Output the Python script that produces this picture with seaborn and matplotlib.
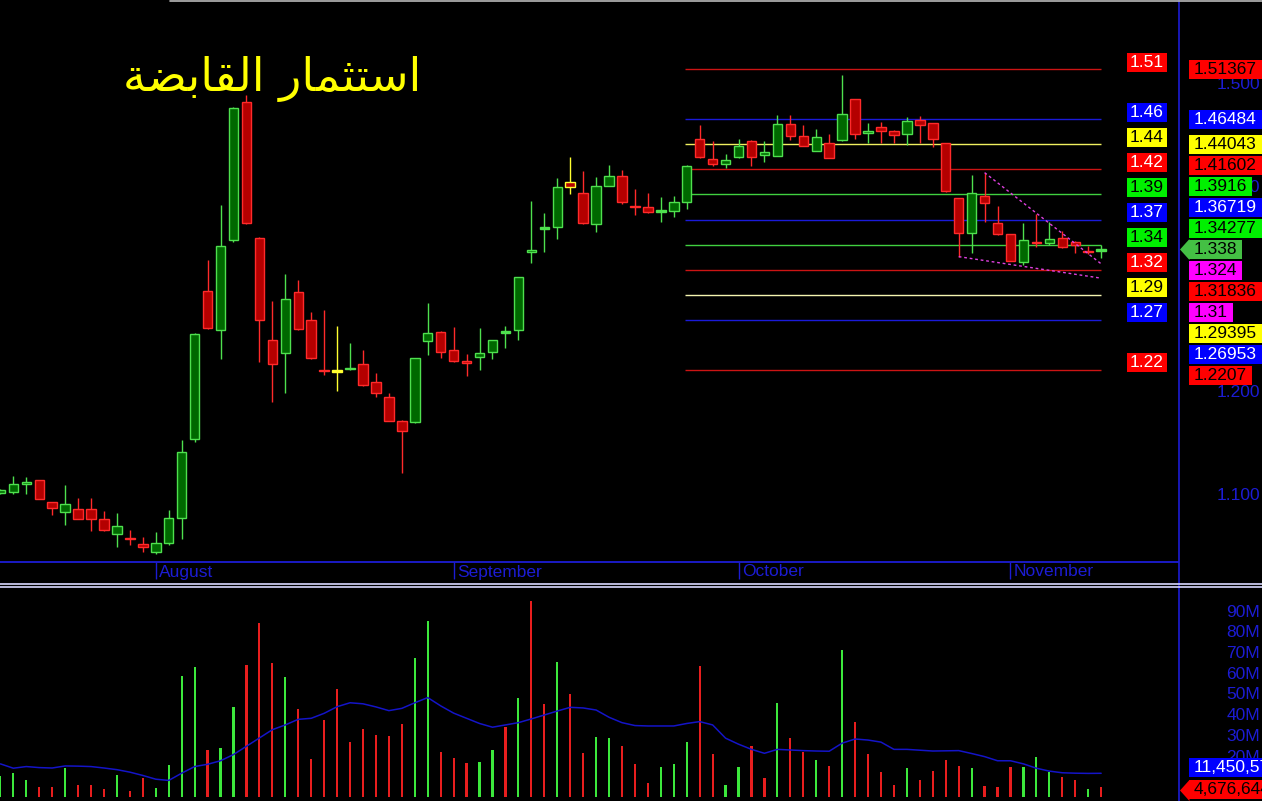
import numpy as np
import pandas as pd
import matplotlib
matplotlib.use('Agg')
import matplotlib.pyplot as plt
from matplotlib.lines import Line2D
import seaborn as sns

# ---- values (price in SAR, volume in millions) ----
opens = [1.1006, 1.1012, 1.1090, 1.1129, 1.0915, 1.0817, 1.0847, 1.0847, 1.0749, 1.0603,
         1.0565, 1.0505, 1.0427, 1.0515, 1.0759, 1.1529, 1.2972, 1.2595, 1.3469, 1.4815,
         1.3489, 1.2497, 1.2368, 1.2965, 1.2693, 1.2203, 1.2198, 1.2214, 1.2260, 1.2085,
         1.1939, 1.1708, 1.1695, 1.2490, 1.2578, 1.2397, 1.2292, 1.2335, 1.2377, 1.2575,
         1.2592, 1.3352, 1.3585, 1.3596, 1.4041, 1.3928, 1.3625, 1.3999, 1.4094, 1.3800,
         1.3791, 1.3755, 1.3758, 1.3846, 1.4454, 1.4259, 1.4210, 1.4279, 1.4438, 1.4301,
         1.4294, 1.4600, 1.4489, 1.4343, 1.4415, 1.4444, 1.4844, 1.4513, 1.4571, 1.4535,
         1.4503, 1.4642, 1.4610, 1.4415, 1.3879, 1.3544, 1.3901, 1.3635, 1.3528, 1.3261,
         1.3456, 1.3446, 1.3489, 1.3456, 1.3362, 1.3370]
highs = [1.1040, 1.1171, 1.1165, 1.1135, 1.0920, 1.1083, 1.0960, 1.0960, 1.0830, 1.0807,
         1.0645, 1.0580, 1.0622, 1.0840, 1.1522, 1.2565, 1.3277, 1.3814, 1.4770, 1.4886,
         1.3500, 1.2880, 1.3138, 1.3082, 1.2773, 1.2790, 1.2634, 1.2465, 1.2400, 1.2179,
         1.1978, 1.1715, 1.2325, 1.2855, 1.2585, 1.2627, 1.2361, 1.2612, 1.2500, 1.2634,
         1.3115, 1.3853, 1.3733, 1.4080, 1.4279, 1.4148, 1.4084, 1.4204, 1.4155, 1.3967,
         1.3933, 1.3889, 1.3901, 1.4200, 1.4594, 1.4438, 1.4311, 1.4457, 1.4445, 1.4438,
         1.4691, 1.4691, 1.4594, 1.4552, 1.4506, 1.5081, 1.4850, 1.4616, 1.4623, 1.4540,
         1.4675, 1.4681, 1.4615, 1.4420, 1.3885, 1.4106, 1.4129, 1.3807, 1.3530, 1.3641,
         1.3726, 1.3651, 1.3563, 1.3460, 1.3414, 1.3424]
lows = [1.1000, 1.0993, 1.0993, 1.0945, 1.0791, 1.0694, 1.0750, 1.0638, 1.0640, 1.0482,
        1.0499, 1.0433, 1.0411, 1.0499, 1.0557, 1.1506, 1.2605, 1.2309, 1.3450, 1.3625,
        1.2286, 1.1896, 1.1978, 1.2595, 1.2310, 1.2156, 1.2003, 1.2206, 1.2050, 1.1945,
        1.1705, 1.1198, 1.1690, 1.2351, 1.2319, 1.2285, 1.2149, 1.2206, 1.2312, 1.2422,
        1.2497, 1.3245, 1.3358, 1.3479, 1.3918, 1.3630, 1.3548, 1.3995, 1.3820, 1.3716,
        1.3738, 1.3651, 1.3700, 1.3772, 1.4269, 1.4194, 1.4177, 1.4275, 1.4194, 1.4230,
        1.4290, 1.4447, 1.4385, 1.4340, 1.4270, 1.4440, 1.4457, 1.4415, 1.4415, 1.4418,
        1.4399, 1.4415, 1.4376, 1.3940, 1.3310, 1.3349, 1.3645, 1.3520, 1.3265, 1.3229,
        1.3401, 1.3424, 1.3395, 1.3349, 1.3333, 1.3294]
closes = [1.1035, 1.1090, 1.1110, 1.0950, 1.0856, 1.0895, 1.0755, 1.0749, 1.0642, 1.0681,
          1.0558, 1.0482, 1.0515, 1.0759, 1.1408, 1.2553, 1.2612, 1.3411, 1.4757, 1.3635,
          1.2693, 1.2266, 1.2894, 1.2602, 1.2319, 1.2196, 1.2198, 1.2222, 1.2056, 1.1978,
          1.1711, 1.1613, 1.2319, 1.2568, 1.2383, 1.2290, 1.2270, 1.2368, 1.2494, 1.2580,
          1.3109, 1.3375, 1.3592, 1.3986, 1.3986, 1.3635, 1.3999, 1.4094, 1.3840, 1.3795,
          1.3742, 1.3760, 1.3846, 1.4194, 1.4285, 1.4210, 1.4250, 1.4392, 1.4285, 1.4327,
          1.4600, 1.4489, 1.4392, 1.4480, 1.4275, 1.4698, 1.4503, 1.4535, 1.4535, 1.4493,
          1.4630, 1.4596, 1.4454, 1.3947, 1.3544, 1.3928, 1.3830, 1.3528, 1.3271, 1.3469,
          1.3440, 1.3479, 1.3401, 1.3424, 1.3356, 1.3380]
volumes = [10.1, 11.6, 8.2, 4.8, 4.8, 14.0, 5.9, 5.9, 4.0, 10.6,
           3.0, 9.3, 4.3, 15.5, 58.5, 62.8, 22.7, 23.7, 43.5, 63.9,
           84.2, 64.7, 58.0, 42.7, 18.4, 37.2, 52.3, 26.6, 32.9, 30.0,
           29.5, 35.3, 67.0, 85.0, 21.6, 19.0, 16.6, 16.9, 22.7, 34.0,
           47.8, 94.7, 44.9, 65.2, 49.8, 21.1, 29.1, 28.5, 24.6, 16.1,
           6.9, 14.5, 15.9, 26.6, 63.3, 20.8, 5.8, 14.5, 24.6, 9.2,
           45.4, 28.7, 21.7, 17.9, 15.0, 71.0, 36.4, 20.8, 12.2, 5.8,
           13.9, 8.2, 12.6, 17.9, 15.0, 13.9, 5.3, 4.8, 14.5, 14.5,
           19.3, 12.1, 9.7, 8.2, 3.9, 4.68]
vol_up = [1, 1, 1, 0, 0, 1, 0, 0, 0, 1,
          0, 0, 1, 1, 1, 1, 0, 1, 1, 0,
          0, 0, 1, 0, 0, 0, 0, 0, 0, 0,
          0, 0, 1, 1, 0, 0, 0, 1, 1, 0,
          1, 0, 0, 1, 0, 0, 1, 1, 0, 0,
          0, 1, 1, 1, 0, 0, 1, 1, 0, 0,
          1, 0, 0, 1, 0, 1, 0, 0, 0, 0,
          1, 0, 0, 0, 0, 1, 0, 0, 0, 1,
          1, 1, 0, 0, 1, 0]
vol_ma = [16, 13.9, 14.7, 14.2, 14, 15, 14.9, 14.7, 14, 13.2,
          12, 10.4, 8.6, 8, 11.5, 14.7, 15.8, 17.5, 20.5, 24.5,
          28.5, 32.5, 34.8, 37.5, 38, 40.4, 43.6, 45.5, 45, 43.5,
          41.7, 42.8, 45.5, 48, 44, 40.5, 38, 35.5, 33.7, 34.8,
          35.9, 37.7, 39.6, 41.5, 43.3, 43, 42, 38.5, 35.9, 34.5,
          34.3, 34.3, 34.3, 35.5, 36.4, 34.8, 28.4, 25.5, 23, 21.1,
          23, 22.7, 22.4, 22.2, 22.1, 26, 28, 27.5, 26.5, 23,
          23, 22.6, 22.2, 22.3, 22.4, 21, 19.5, 17.5, 17.5, 16,
          13.9, 12.5, 11.7, 11.5, 11.4, 11.45]

months = ['August', 'September', 'October', 'November']
month_idx = [12, 35, 57, 78]

fib_levels = [1.51367, 1.46484, 1.44043, 1.41602, 1.3916, 1.36719,
              1.34277, 1.31836, 1.29395, 1.26953, 1.2207]
fib_kind = ['red', 'blue', 'yellow', 'red', 'green', 'blue',
            'green', 'red', 'yellow', 'blue', 'red']
fib_from, fib_to = 52.9, 85

trend_x = [[76, 85], [74, 85]]
trend_y = [[1.4129, 1.324], [1.3310, 1.31]]

last_price = 1.338
vol_ma_text = '11,450,57'
vol_last_text = '4,676,644'
marked_candle = 44

price_ticks = [1.1, 1.2, 1.3, 1.4, 1.5]
vol_ticks = [20, 30, 40, 50, 60, 70, 80, 90]

# Arabic title, already shaped (presentation forms, visual order)
title = '\uFE94\uFEC0\uFE91\uFE8E\uFED8\uFEDF\uFE8D \uFEAD\uFE8E\uFEE4\uFE9C\uFE98\uFEB3\uFE8D'

# ---- styling ----
BLUE = '#1c1cd4'
G_EDGE, G_FILL = '#4ee04e', '#006800'
R_EDGE, R_FILL = '#ff2a2a', '#b40000'
YEL = '#ffff30'
line_col = {'red': '#cc1414', 'blue': '#1a1ad8', 'yellow': '#f0f060', 'green': '#40d040'}
box_col = {'red': '#ff0000', 'blue': '#0000ff', 'yellow': '#ffff00', 'green': '#00f000'}

W, H = 1262, 801
SEP = 1178
P_BOT = 562
V_TOP = 587
SLOT = 12.95

sns.set_style('dark', {'axes.facecolor': 'black', 'figure.facecolor': 'black'})
plt.rcParams['font.family'] = ['Liberation Sans', 'DejaVu Sans']

fig = plt.figure(figsize=(W / 100, H / 100), dpi=100, facecolor='black')
ax = fig.add_axes([0, (H - P_BOT) / H, SEP / W, P_BOT / H])
axv = fig.add_axes([0, 0, SEP / W, (H - V_TOP) / H])

idx = np.arange(len(closes))
o, c = np.array(opens), np.array(closes)

# ---- price panel ----
lcols = [line_col[k] for k in fib_kind]
lcols[8] = '#f4f4b0'
ax.hlines(fib_levels, fib_from, fib_to, colors=lcols, lw=1, zorder=1)

up = c > o + 1e-9
down = c < o - 1e-9
edge = np.where(up, G_EDGE, np.where(down, R_EDGE, YEL)).astype(object)
fill = np.where(up, G_FILL, np.where(down, R_FILL, YEL)).astype(object)
doji = np.abs(c - o) < 0.0012
fill[doji] = edge[doji]
edge[marked_candle] = YEL
hgt = np.maximum(np.abs(c - o), 0.0016)
bot = np.where(doji, (o + c) / 2 - 0.0008, np.minimum(o, c))

ax.vlines(idx, lows, highs, colors=list(edge), lw=1, zorder=2)
ax.bar(idx, hgt, bottom=bot, width=0.73, color=list(fill), edgecolor=list(edge), lw=1, zorder=3)

for tx, ty in zip(trend_x, trend_y):
    ax.plot(tx, ty, color='#e040e0', lw=1, ls=(0, (2, 2)), zorder=4)

ymin, ymax = 1.0333, 1.5812
ax.set_ylim(ymin, ymax)
xmax = SEP / SLOT
ax.set_xlim(-0.03, xmax - 0.03)
ppx = P_BOT / (ymax - ymin)

ax.grid(False)
for s in ['top', 'left', 'right']:
    ax.spines[s].set_visible(False)
ax.spines['bottom'].set_color(BLUE)
ax.spines['bottom'].set_linewidth(1.3)

ax.set_xticks(month_idx)
ax.tick_params(axis='x', bottom=True, direction='out', length=12, width=1, color=BLUE, labelbottom=False)
for name, mi in zip(months, month_idx):
    ax.text(mi + 0.28, -10 / P_BOT, name, transform=ax.get_xaxis_transform(), color=BLUE,
            fontsize=12.5, ha='left', va='center', clip_on=False)

ax.yaxis.tick_right()
ax.set_yticks(price_ticks, [f'{t:.3f}' for t in price_ticks])
ax.tick_params(axis='y', right=False, length=0, pad=82 / 1.389, labelsize=12.5, labelcolor=BLUE)
plt.setp(ax.get_yticklabels(), ha='right')


def tag(axis, x_px, y, text, fc, tc, ha='left', size=12.5, pad=0.28, asp=0.42):
    axis.text(x_px / SEP, y, text, transform=axis.get_yaxis_transform(), ha=ha, va='center',
              fontsize=size, color=tc, zorder=6, clip_on=False,
              bbox=dict(boxstyle=f'square,pad={pad}', fc=fc, ec='none', mutation_aspect=asp))


def arrow(axis, x_px, y, fc):
    axis.plot([x_px / SEP], [y], transform=axis.get_yaxis_transform(), clip_on=False, zorder=6,
              marker=[(-0.9, 0), (0, 1), (0, -1), (-0.9, 0)], ms=15.2, color=fc, mew=0)


# rounded level tags inside the chart
for k, lv in zip(fib_kind, fib_levels):
    tc = 'white' if k in ('red', 'blue') else 'black'
    tag(ax, 1147, lv + 7 / ppx, f'{lv:.2f}', box_col[k], tc, ha='center', size=12.5, pad=0.16, asp=0.75)

# exact values on the right scale, stacked so they don't overlap
right_tags = [(lv, box_col[k], 'white' if k == 'blue' else 'black', f'{lv:.5f}'.rstrip('0'))
              for k, lv in zip(fib_kind, fib_levels)]
right_tags += [(ty[-1], '#ff00ff', 'black', f'{ty[-1]:.3f}'.rstrip('0')) for ty in trend_y]
gap = 21 / ppx
pos = {}
prev = last_price
for t in sorted([t for t in right_tags if t[0] > last_price], key=lambda t: t[0]):
    prev = max(t[0], prev + gap)
    pos[t[3]] = prev
prev = last_price
for t in sorted([t for t in right_tags if t[0] < last_price], key=lambda t: -t[0]):
    prev = min(t[0], prev - gap)
    pos[t[3]] = prev
for t in right_tags:
    tag(ax, 1194, pos[t[3]], t[3], t[1], t[2])
tag(ax, 1194, last_price, f'{last_price:.3f}', '#44c044', 'black')
arrow(ax, 1189.5, last_price, '#44c044')

# ---- volume panel ----
vdf = pd.DataFrame({'idx': idx, 'vol': volumes,
                    'dir': ['up' if u else 'down' for u in vol_up]})
sns.barplot(data=vdf, x='idx', y='vol', hue='dir', palette={'up': '#3ce83c', 'down': '#e81e1e'},
            dodge=False, width=0.17, saturation=1, errorbar=None, legend=False, ax=axv,
            linewidth=0, edgecolor='none')
sns.lineplot(x=idx, y=vol_ma, color='#1414c8', lw=1.1, ax=axv)

axv.set_xlim(-0.03, xmax - 0.03)
axv.set_ylim(-1.93, 101.4)
axv.grid(False)
for s in axv.spines.values():
    s.set_visible(False)
axv.set_xticks([])
axv.set_xlabel('')
axv.set_ylabel('')
axv.yaxis.tick_right()
axv.set_yticks(vol_ticks, [f'{v}M' for v in vol_ticks])
axv.tick_params(axis='y', right=False, length=0, pad=82 / 1.389, labelsize=12.5, labelcolor=BLUE)
plt.setp(axv.get_yticklabels(), ha='right')

vgap = 22 / 2.071
tag(axv, 1194, volumes[-1] - 1.2, vol_last_text, '#ff0000', 'black')
arrow(axv, 1189.5, volumes[-1] - 1.2, '#ff0000')
tag(axv, 1194, max(vol_ma[-1], volumes[-1] - 1.2 + vgap), vol_ma_text, '#0000ff', 'white')

# ---- frame lines and title ----
fig.add_artist(Line2D([(SEP + 0.5) / W] * 2, [0, 1], color=BLUE, lw=1.2))
for yy in (584.3, 586.8):
    fig.add_artist(Line2D([0, 1], [1 - yy / H] * 2, color='#d8d8ff', lw=1.2))
fig.add_artist(Line2D([170 / W, 1], [1 - 0.8 / H] * 2, color='#b8b8b8', lw=1.2))

fig.text(272 / W, 1 - 79 / H, title, color='#ffff00', fontsize=33, family='DejaVu Sans',
         ha='center', va='center')

fig.savefig('out.png', dpi=100, facecolor='black')
